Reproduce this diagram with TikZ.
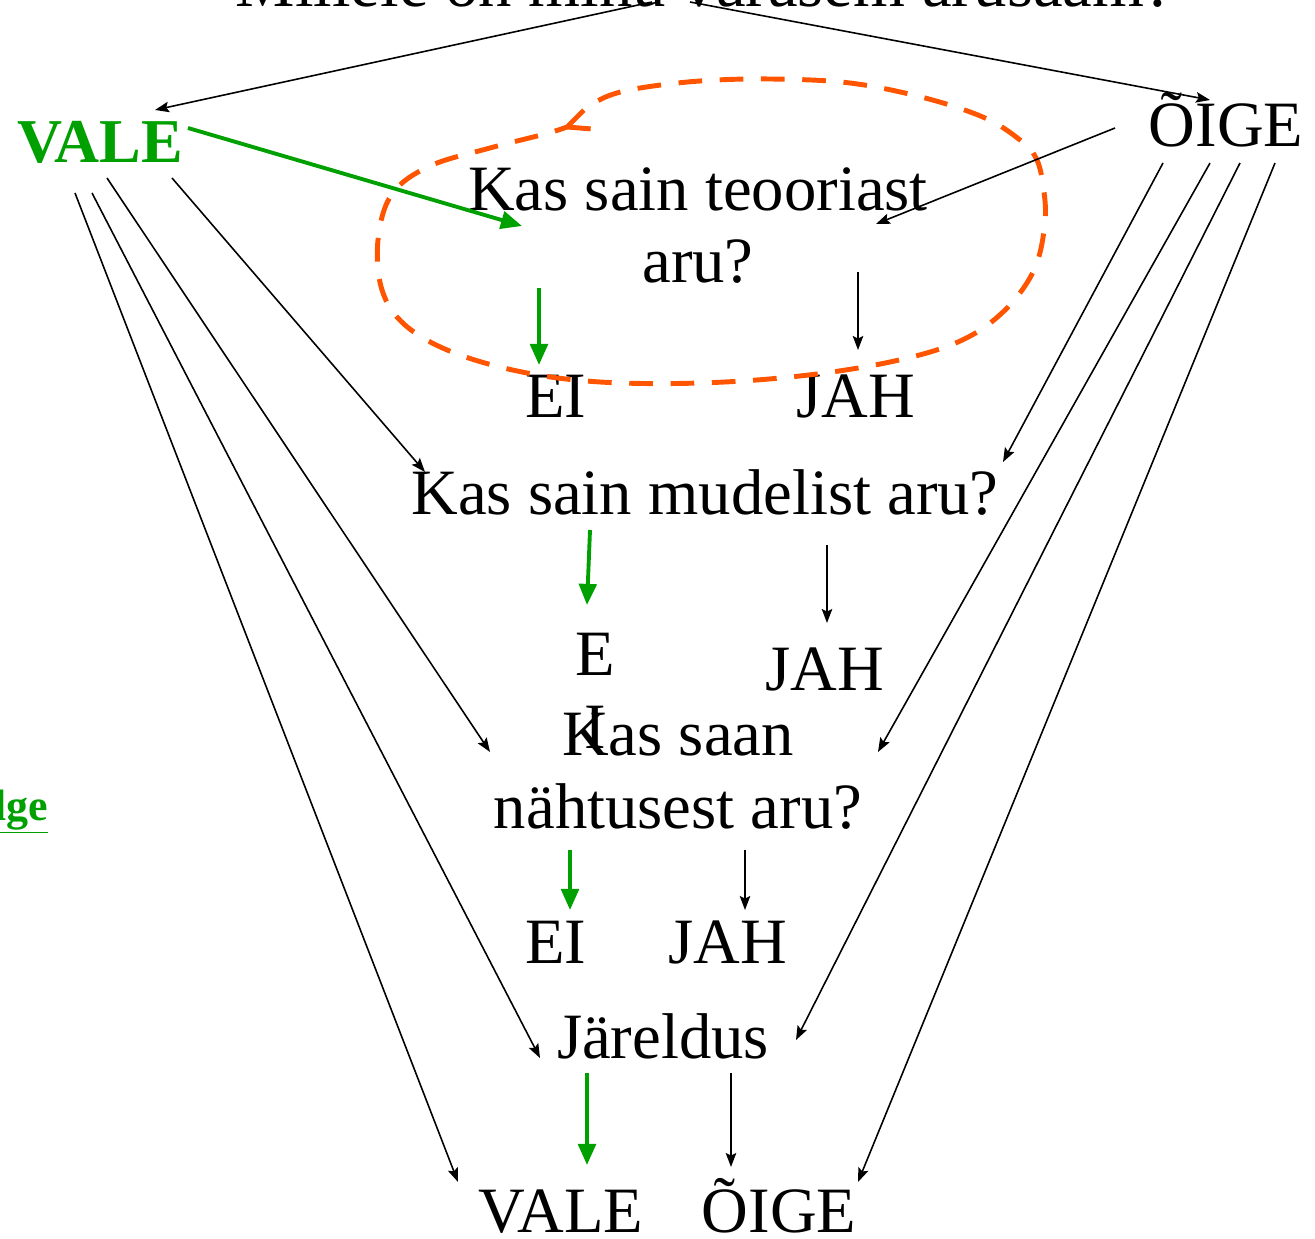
\documentclass[tikz,border=0pt]{standalone}
\usepackage{fontspec}
\setmainfont{Liberation Serif}
\usetikzlibrary{arrows.meta}

\definecolor{vgreen}{RGB}{0,160,0}
\definecolor{vorange}{RGB}{255,85,0}

\tikzset{
  txt/.style={font=\fontsize{36.8}{41.5}\selectfont, inner sep=0pt, anchor=base, align=center},
  blk/.style={line width=0.9pt, -{Stealth[length=8pt,width=6pt,inset=1.5pt]}},
  grn/.style={vgreen, line width=2.2pt, -{Triangle[length=12pt,width=10pt]}},
  loopline/.style={vorange, line width=2.8pt, dash pattern=on 13.5pt off 10pt, line cap=butt, line join=round}
}

\begin{document}
\begin{tikzpicture}[x=0.02cm, y=-0.02cm]
\useasboundingbox (0,0) rectangle (1315,1239);

% base of a two-line node is the baseline of its last line
\node[txt, font=\fontsize{38}{44}\selectfont] (q0) at (705,7) {Millele on minu varasem arusaam?};
\node[txt, font=\fontsize{35.5}{40}\selectfont\bfseries, text=vgreen] (vale) at (100,163) {VALE};
\node[txt] (oige) at (1226,147) {ÕIGE};
\node[txt] (q1) at (698,283) {Kas sain teooriast\\aru?};
\node[txt] (ei1) at (556,418) {EI};
\node[txt] (jah1) at (856,418) {JAH};
\node[txt] (q2) at (705,515) {Kas sain mudelist aru?};
\node[txt] (ei2) at (595,748) {E\\I};
\node[txt] (jah2) at (825,690) {JAH};
\node[txt] (q3) at (678,828) {Kas saan\\nähtusest aru?};
\node[txt] (ei3) at (556,963) {EI};
\node[txt] (jah3) at (728,963) {JAH};
\node[txt] (q4) at (663,1058) {Järeldus};
\node[txt] (vale2) at (561,1232) {VALE};
\node[txt] (oige2) at (779,1232) {ÕIGE};
\node[txt, anchor=base west, font=\fontsize{25}{30}\selectfont\bfseries, text=vgreen] (side) at (-6,820) {\underline{lge}};

% dashed loop round the first question, with its little hook
\draw[loopline] (567,127) -- (586,108) -- plot[smooth, tension=.6] coordinates {(586,108) (608,96) (640,88) (700,81) (770,79) (850,83) (925,98) (985,118) (1020,140) (1036,158) (1043,185) (1045,222) (1034,270) (1003,312) (958,342) (890,362) (800,376) (700,383) (600,382) (522,372) (452,352) (405,325) (382,290) (378,240) (392,194) (430,166) (490,148) (545,134) (567,127)};
\draw[loopline] (567,127) -- (592,129);

% from the question on top
\draw[blk] ([shift={(-53,-5)}]q0.base) -- ([shift={(55,-53)}]vale.base);
\draw[blk] ([shift={(-15,-5)}]q0.base) -- ([shift={(-16,-47)}]oige.base);

% first question
\draw[grn] ([shift={(88,-35)}]vale.base) -- ([shift={(-176,-57)}]q1.base);
\draw[blk] ([shift={(-111,-19)}]oige.base) -- ([shift={(178,-59)}]q1.base);
\draw[grn] ([shift={(-159,5)}]q1.base) -- ([shift={(-17,-53)}]ei1.base);
\draw[blk] ([shift={(160,-11)}]q1.base) -- ([shift={(2,-68)}]jah1.base);

% VALE fans out
\draw[blk] ([shift={(-25,30)}]vale.base) -- ([shift={(-103,-50)}]vale2.base);
\draw[blk] ([shift={(-8,30)}]vale.base) -- ([shift={(-123,0)}]q4.base);
\draw[blk] ([shift={(7,15)}]vale.base) -- ([shift={(-188,-76)}]q3.base);
\draw[blk] ([shift={(72,15)}]vale.base) -- ([shift={(-280,-43)}]q2.base);

% ÕIGE fans out
\draw[blk] ([shift={(-63,16)}]oige.base) -- ([shift={(298,-53)}]q2.base);
\draw[blk] ([shift={(-16,16)}]oige.base) -- ([shift={(200,-76)}]q3.base);
\draw[blk] ([shift={(14,16)}]oige.base) -- ([shift={(133,-18)}]q4.base);
\draw[blk] ([shift={(49,16)}]oige.base) -- ([shift={(79,-50)}]oige2.base);

% answers below each step
\draw[grn] ([shift={(-115,15)}]q2.base) -- ([shift={(-8,-143)}]ei2.base);
\draw[blk] ([shift={(122,30)}]q2.base) -- ([shift={(2,-67)}]jah2.base);
\draw[grn] ([shift={(-108,22)}]q3.base) -- ([shift={(14,-53)}]ei3.base);
\draw[blk] ([shift={(67,22)}]q3.base) -- ([shift={(17,-53)}]jah3.base);
\draw[grn] ([shift={(-76,15)}]q4.base) -- ([shift={(26,-67)}]vale2.base);
\draw[blk] ([shift={(68,15)}]q4.base) -- ([shift={(-48,-65)}]oige2.base);
\end{tikzpicture}
\end{document}
